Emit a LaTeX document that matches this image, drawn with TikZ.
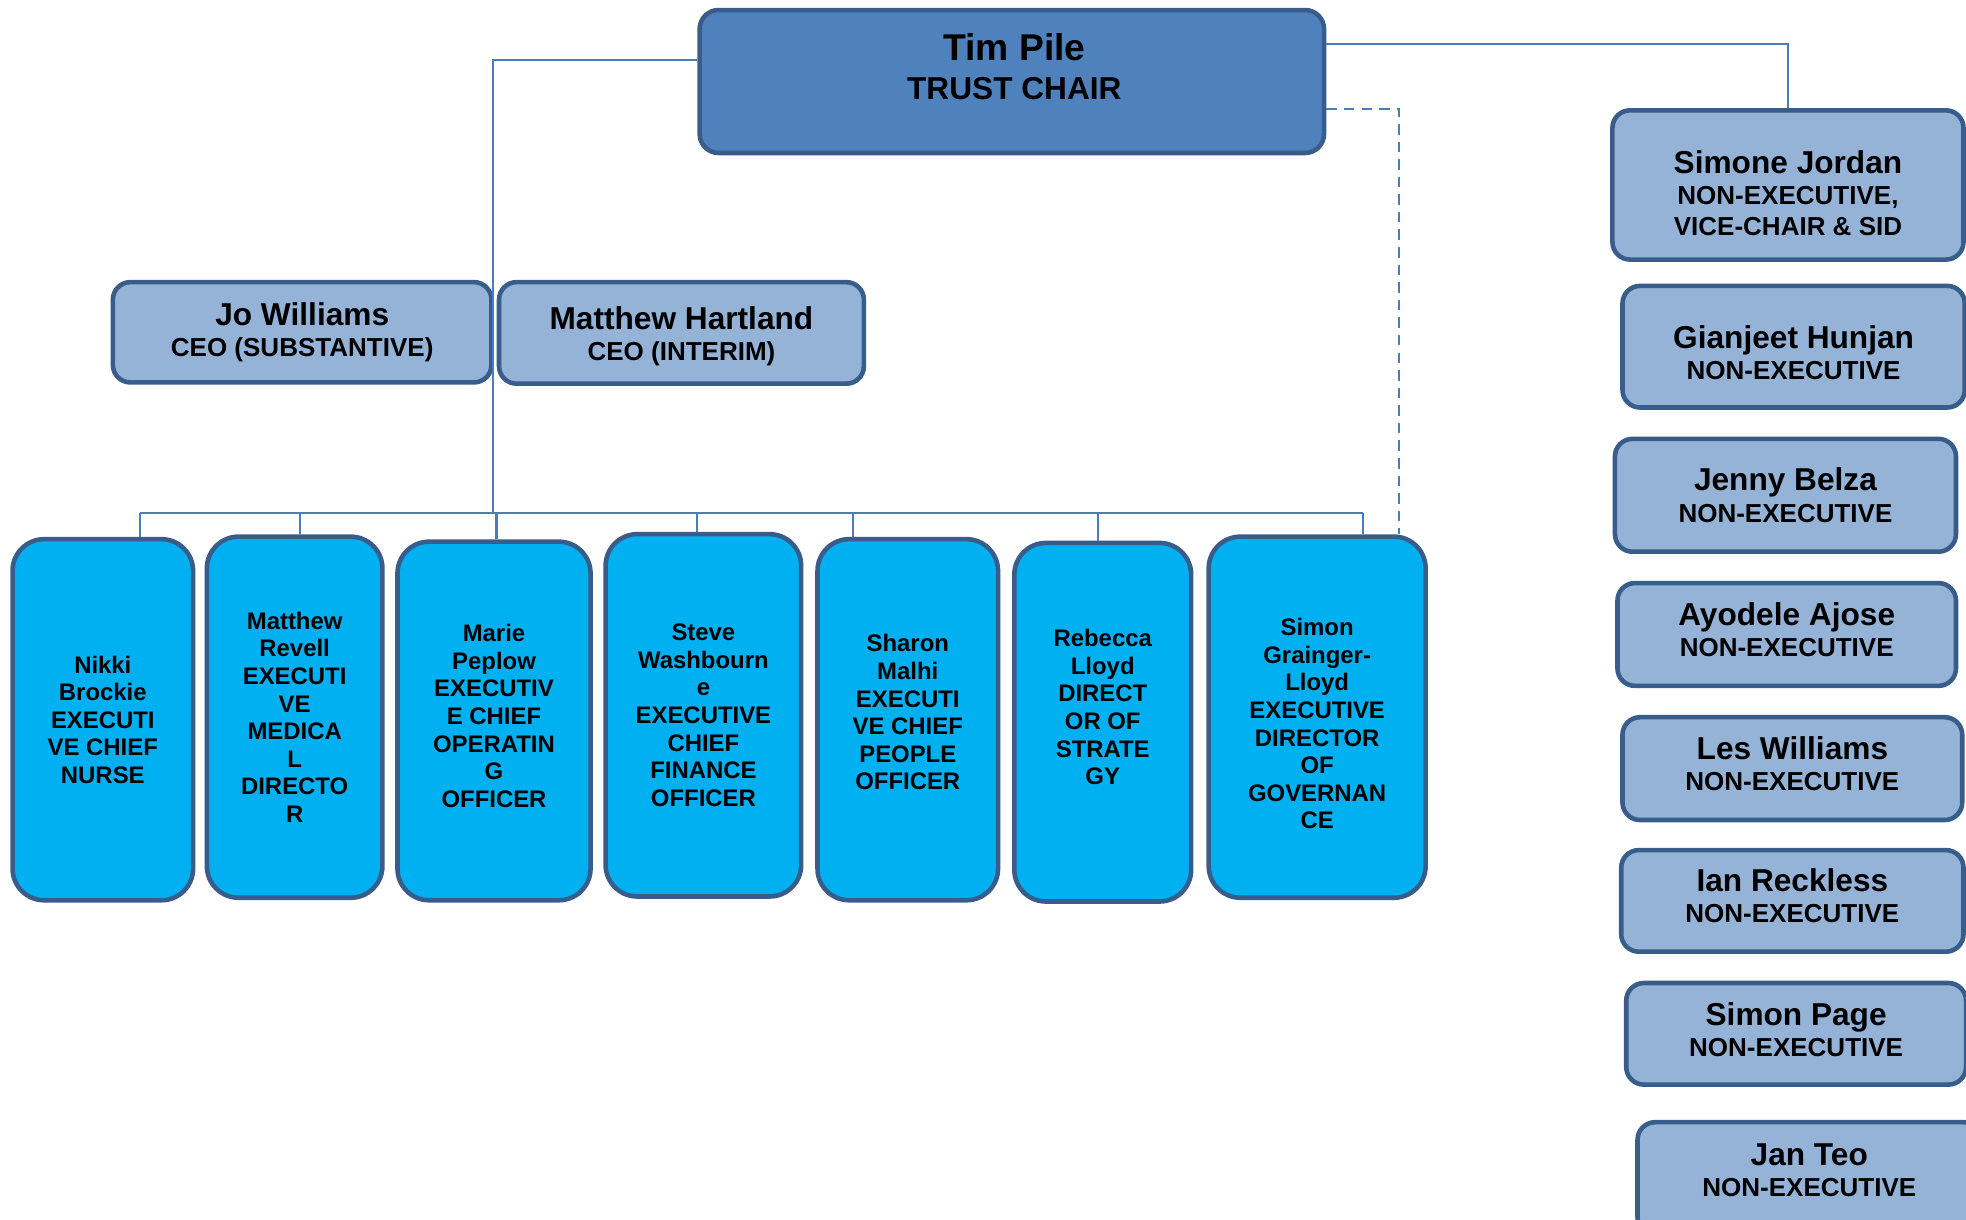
\documentclass[tikz,border=0pt]{standalone}
\usepackage{fontspec}
\setmainfont{Liberation Sans}
\usepackage{tikz}

\definecolor{chairblue}{HTML}{4F81BD}
\definecolor{paleblue}{HTML}{95B3D7}
\definecolor{execblue}{HTML}{00B0F0}
\definecolor{edgeblue}{HTML}{385D8A}
\definecolor{linkblue}{HTML}{4A7EBB}

\newcommand{\namefont}{\fontsize{9}{8.9}\selectfont\bfseries}
\newcommand{\rolefont}{\fontsize{7.4}{8.9}\selectfont\bfseries}
\newcommand{\execfont}{\fontsize{6.8}{7.85}\selectfont\bfseries}
\newcommand{\who}[1]{{\namefont #1}}
% struts to nudge a text block inside its box
\newcommand{\nudgeup}[1]{\rule[-#1]{0pt}{0pt}}
\newcommand{\nudgedown}[1]{\rule{0pt}{#1}}

\begin{document}
\begin{tikzpicture}[x=0.3567pt, y=-0.3567pt,
	link/.style={draw=linkblue, line width=0.6pt},
	dashlink/.style={link, dash pattern=on 3pt off 2pt},
	card/.style 2 args={draw=edgeblue, line width=1.3pt, inner sep=0pt, align=center,
		minimum width=#1*0.3567pt, minimum height=#2*0.3567pt},
	chairbox/.style 2 args={card={#1}{#2}, fill=chairblue, rounded corners=5.4pt},
	nedbox/.style 2 args={card={#1}{#2}, fill=paleblue, rounded corners=5pt, font=\rolefont},
	execbox/.style 2 args={card={#1}{#2}, fill=execblue, rounded corners=9pt, font=\execfont},
	]
	\path[use as bounding box, fill=white] (0,0) rectangle (1568,973);

	% chair
	\node[chairbox={498}{114}] (chair) at (807,65) {};
	\node[align=center, font=\fontsize{9}{11.2}\selectfont\bfseries] (chairname) at (809,53)
		{{\fontsize{10.6}{11.2}\selectfont Tim Pile}\\TRUST CHAIR};

	% chief executives
	\node[nedbox={302}{80}] (jo) at (241,265) {\who{Jo Williams}\\CEO (SUBSTANTIVE)};
	\node[nedbox={291}{81}] (hartland) at (543.5,265.5) {\who{\nudgedown{8.5pt}Matthew Hartland}\\CEO (INTERIM)};

	% executive team
	\node[execbox={144}{288}] (nurse) at (82,574) {Nikki\\Brockie\\EXECUTI\\VE CHIEF\\NURSE};
	\node[execbox={140}{288}] (medic) at (235,572) {Matthew\\Revell\\EXECUTI\\VE\\MEDICA\\L\\DIRECTO\\R};
	\node[execbox={154}{286}] (ops) at (394,575) {Marie\\Peplow\\EXECUTIV\\E CHIEF\\OPERATIN\\G\\OFFICER\nudgeup{2.9pt}};
	\node[execbox={156}{289}] (finance) at (561,570.5) {Steve\\Washbourn\\e\\EXECUTIVE\\CHIEF\\FINANCE\\OFFICER};
	\node[execbox={144}{288}] (people) at (724,574) {Sharon\\Malhi\\EXECUTI\\VE CHIEF\\PEOPLE\\OFFICER\nudgeup{4.3pt}};
	\node[execbox={141}{286}] (strategy) at (879.5,576) {Rebecca\\Lloyd\\DIRECT\\OR OF\\STRATE\\GY\nudgeup{8.6pt}};
	\node[execbox={173}{288}] (governance) at (1050.5,572) {\nudgedown{8.6pt}Simon\\Grainger-\\Lloyd\\EXECUTIVE\\DIRECTOR\\OF\\GOVERNAN\\CE};

	% non-executives
	\node[nedbox={280}{119}] (jordan) at (1426,147.5) {\who{\nudgedown{11.2pt}Simone Jordan}\\NON-EXECUTIVE,\\VICE-CHAIR \& SID};
	\node[nedbox={273}{97}] (hunjan) at (1430.5,276.5) {\who{\nudgedown{9.8pt}Gianjeet Hunjan}\\NON-EXECUTIVE};
	\node[nedbox={272}{90}] (belza) at (1424,395) {\who{Jenny Belza}\\NON-EXECUTIVE};
	\node[nedbox={270}{82}] (ajose) at (1425,506) {\who{Ayodele Ajose}\\NON-EXECUTIVE\nudgeup{2.9pt}};
	\node[nedbox={271}{82}] (lwilliams) at (1429.5,613) {\who{Les Williams}\\NON-EXECUTIVE\nudgeup{2.9pt}};
	\node[nedbox={273}{81}] (reckless) at (1429.5,718.5) {\who{Ian Reckless}\\NON-EXECUTIVE\nudgeup{2.9pt}};
	\node[nedbox={271}{81}] (page) at (1432.5,824.5) {\who{Simon Page}\\NON-EXECUTIVE\nudgeup{2.5pt}};
	\node[nedbox={274}{90}] (teo) at (1443,940) {\who{Jan Teo}\\NON-EXECUTIVE\nudgeup{5pt}};

	% reporting lines
	\coordinate (hub) at (393,409);
	\coordinate (busL) at (112,409);
	\coordinate (busR) at (1087,409);
	\draw[link] (chair.west |- 0,48) -| (hub);
	\draw[link] (busL) -- (busR);
	\foreach \x/\n in {112/nurse,239/medic,396/ops,556/finance,680/people,876/strategy,1087/governance}
		\draw[link] (\x,409) -- (\x,0 |- \n.north);
	\draw[link] (chair.east |- 0,35) -| (jordan.north);
	\draw[dashlink] (chair.east |- 0,87) -| (1116,0 |- governance.north);
\end{tikzpicture}
\end{document}
